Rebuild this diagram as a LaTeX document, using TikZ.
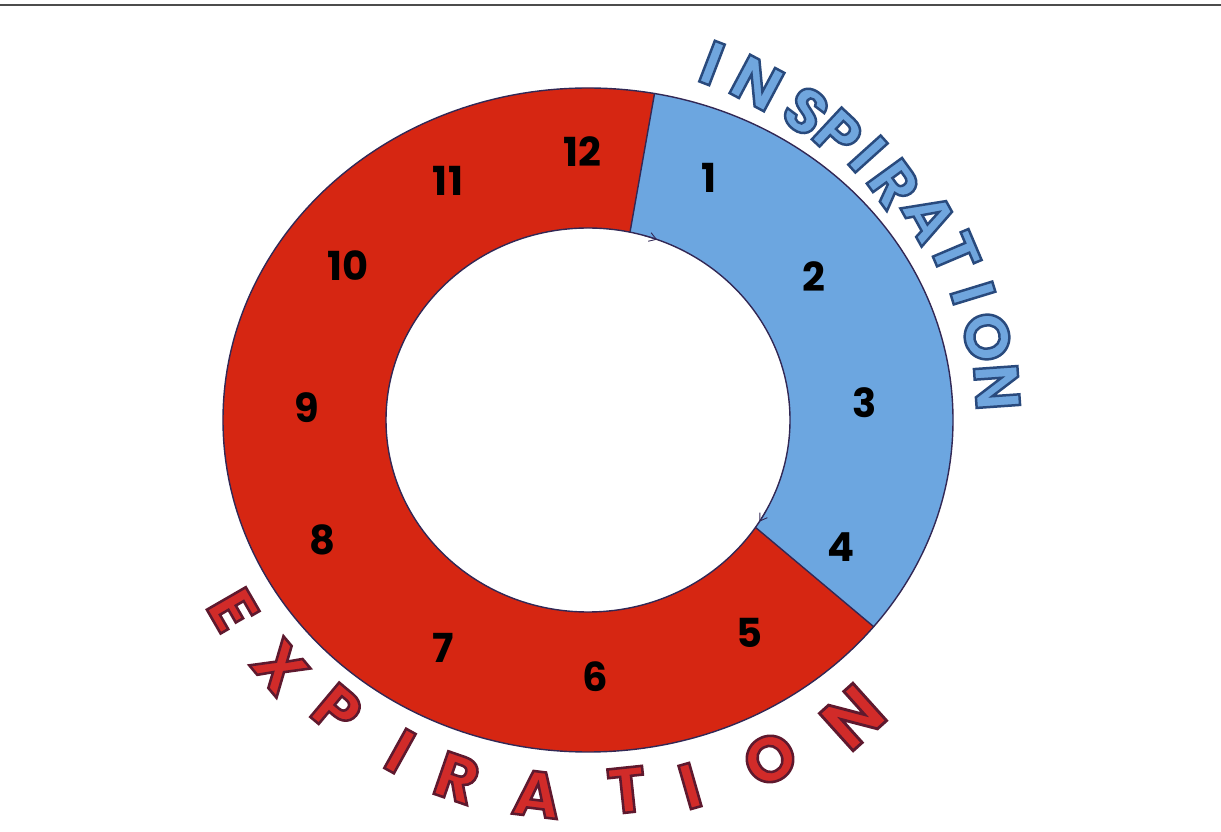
\documentclass[tikz,border=0pt]{standalone}
\usepackage{fontspec}
\newfontfamily\ringfont{Poppins}
\newfontfamily\rimfont{Poppins}[FakeBold=4]
\usetikzlibrary{arrows.meta,calc}

\definecolor{exred}{RGB}{214,38,18}
\definecolor{inblue}{RGB}{108,166,224}
\definecolor{rimline}{RGB}{50,40,85}

% outlined letters: fill colour first, rim colour second
\newcommand\inletter[1]{\special{pdf:bcolor [0.44 0.65 0.87] [0.16 0.29 0.49]}#1\special{pdf:ecolor}}
\newcommand\exletter[1]{\special{pdf:bcolor [0.82 0.17 0.16] [0.37 0.10 0.18]}#1\special{pdf:ecolor}}

\begin{document}
\begin{tikzpicture}[
    x=1pt, y=1pt,
    rim/.style={draw=rimline, line width=1.4pt},
    num/.style={
        inner sep=0pt, text=black,
        font=\ringfont\bfseries\fontsize{40}{40}\selectfont,
    },
    insp/.style={
        inner sep=0pt,
        font=\rimfont\bfseries\fontsize{62}{62}\selectfont,
    },
    expi/.style={
        inner sep=0pt,
        font=\rimfont\bfseries\fontsize{64}{64}\selectfont,
    },
    flow/.style={
        -{Straight Barb[length=7pt,width=9pt]}, rimline, line width=0.9pt,
    },
]
\useasboundingbox (0,0) rectangle (1221,831);

% rule at the top of the page
\draw[line width=2pt, black!70] (0,826) -- (1221,826);

% ring centre and the two borders between the phases
\coordinate (c) at (588,411);
\coordinate (topout) at ($(c)+(79.5:365 and 332)$);
\coordinate (topin) at ($(c)+(78:202 and 192)$);
\coordinate (botout) at ($(c)+(-38.5:365 and 332)$);
\coordinate (botin) at ($(c)+(-34:202 and 192)$);

% inspiration part
\fill[inblue] (topout) arc[start angle=79.5, end angle=-38.5, x radius=365, y radius=332]
    -- (botin) arc[start angle=-34, end angle=78, x radius=202, y radius=192] -- cycle;
% expiration part
\fill[exred] (topout) arc[start angle=79.5, end angle=321.5, x radius=365, y radius=332]
    -- (botin) arc[start angle=326, end angle=78, x radius=202, y radius=192] -- cycle;

\draw[rim] (c) ellipse[x radius=365, y radius=332];
\draw[rim] (c) ellipse[x radius=202, y radius=192];
\draw[rim] (topout) -- (topin);
\draw[rim] (botout) -- (botin);

% small direction marks on the inner edge
\draw[flow] ($(c)+(74:202 and 192)$) arc[start angle=74, end angle=70, x radius=202, y radius=192];
\draw[flow] ($(c)+(-28:202 and 192)$) arc[start angle=-28, end angle=-32, x radius=202, y radius=192];

% clock numbers
\foreach \n/\x/\y in {1/709/653, 2/814/554, 3/865/428, 4/841/284,
                      5/749/198, 6/595/154, 7/443/183, 8/322/291,
                      9/307/423, 10/348/565, 11/448/650, 12/582/679}
    \node[num] (num\n) at (\x,\y) {\n};

% INSPIRATION round the outside, tops outwards
\foreach \ch/\x/\y/\r [count=\i] in {I/712/768/-21, N/757/748/-28, S/806/720/-37,
        P/838/697/-43, I/868/677/-48, R/894/647/-54, A/930/614/-61,
        T/955/578/-67, I/973/538/-73, O/987/494/-79, N/997/444/-86}
    \node[insp, rotate=\r] (insp\i) at (\x,\y) {\inletter{\ch}};

% EXPIRATION round the bottom, tops inwards
\foreach \ch/\x/\y/\r/\s [count=\i] in {E/233/221/-60/1, X/280/164/-50/1, P/337/121/-40/1,
        I/400/80/-29/1, R/457/53/-19/1, A/537/37/-7/1, T/627/41/6/1,
        I/690/45/16/1, O/770/72/29/1, N/853/114/42/1.12}
    \node[expi, rotate=\r, scale=\s] (expi\i) at (\x,\y) {\exletter{\ch}};

\end{tikzpicture}
\end{document}
